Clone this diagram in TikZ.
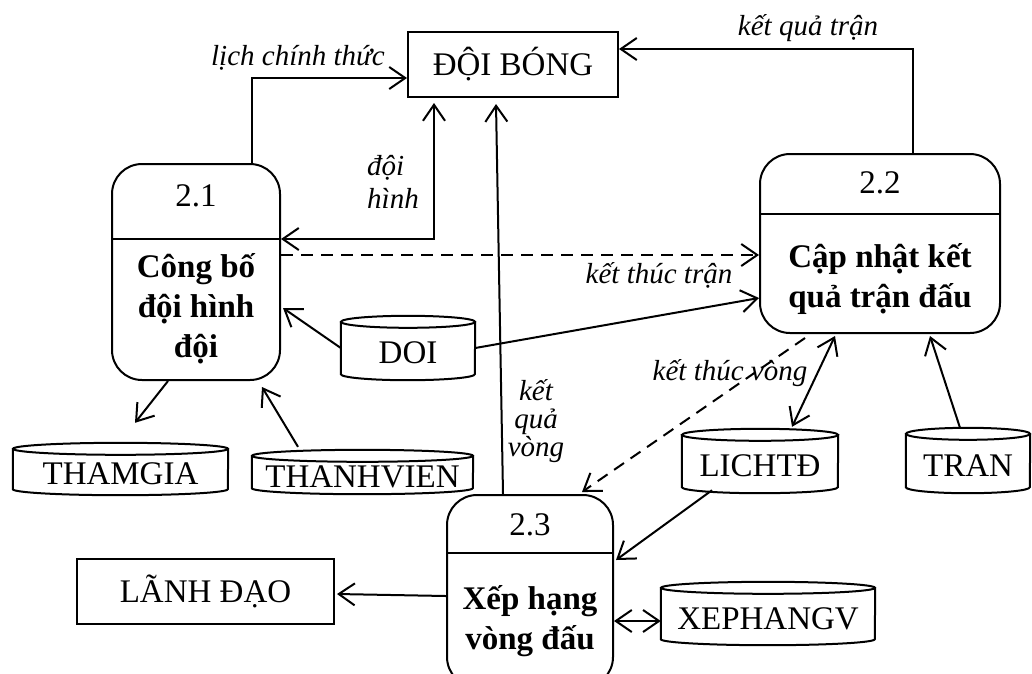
\documentclass[tikz,border=0pt]{standalone}
\usepackage{fontspec}
\setmainfont{Liberation Serif}
\usetikzlibrary{arrows.meta}

\newcommand\dfdtext{\fontsize{33}{40}\selectfont}
\newcommand\dfdlabel{\fontsize{29}{33}\selectfont\itshape}

% outline of a data store: open cylinder drawn around a named node
\newcommand\storeoutline[2]{%
  \draw[outline] ([yshift=-6pt]#1.north west) -- ([yshift=6pt]#1.south west)
    arc[start angle=180,end angle=360,x radius=#2pt,y radius=6pt]
    -- ([yshift=-6pt]#1.north east)
    ([yshift=-6pt]#1.north) ellipse[x radius=#2pt,y radius=6pt];}

\tikzset{
  outline/.style={line width=2pt},
  entity/.style={draw, outline, font=\dfdtext, inner sep=0pt},
  process/.style={draw, outline, rounded corners=30pt, inner sep=0pt},
  store/.style={inner sep=0pt, font=\dfdtext},
  num/.style={font=\dfdtext, anchor=base, inner sep=0pt},
  ptitle/.style={font=\dfdtext\bfseries, align=center, inner sep=0pt},
  lbl/.style={font=\dfdlabel, inner sep=0pt},
  >={Straight Barb[length=16pt,width=22pt]},
  flow/.style={outline, ->},
  both/.style={outline, <->},
  event/.style={flow, dash pattern=on 12pt off 8pt},
}

\begin{document}
\begin{tikzpicture}[x=1pt,y=-1pt]
\useasboundingbox (0,0) rectangle (1032,673);
\fill[white] (0,0) rectangle (1032,673);
\clip (0,0) rectangle (1032,673);

% external entities
\node[entity, minimum width=210pt, minimum height=65pt] (doib) at (513,64.5) {ĐỘI BÓNG};
\node[entity, minimum width=257pt, minimum height=65pt] (lanh) at (205.5,591.5) {LÃNH ĐẠO};

% processes
\node[process, minimum width=168pt, minimum height=216pt] (p21) at (196,272) {};
\node[process, minimum width=240pt, minimum height=179pt] (p22) at (880,243.5) {};
\node[process, minimum width=166pt, minimum height=192pt] (p23) at (530,591) {};
\draw[outline] ([yshift=-76pt]p21.north west) -- ([yshift=-76pt]p21.north east);
\draw[outline] ([yshift=-61pt]p22.north west) -- ([yshift=-61pt]p22.north east);
\draw[outline] ([yshift=-59pt]p23.north west) -- ([yshift=-59pt]p23.north east);
\node[num] (n21) at (196,206) {2.1};
\node[num] (n22) at (880,193) {2.2};
\node[num] (n23) at (530,535) {2.3};
\node[ptitle] (t21) at (196,309) {Công bố\\đội hình\\đội};
\node[ptitle] (t22) at (880,279) {Cập nhật kết\\quả trận đấu};
\node[ptitle] (t23) at (530,621) {Xếp hạng\\vòng đấu};

% data stores
\node[store, minimum width=215pt, minimum height=52pt] (thamgia) at (120.5,469) {\raisebox{-5pt}[\height][\depth]{THAMGIA}};
\node[store, minimum width=221pt, minimum height=44pt] (thanhvien) at (362.5,472) {\raisebox{-5pt}[\height][\depth]{THANHVIEN}};
\node[store, minimum width=134pt, minimum height=64pt] (doi) at (408,348) {\raisebox{-5pt}[\height][\depth]{DOI}};
\node[store, minimum width=156pt, minimum height=64pt] (lichtd) at (760,461) {\raisebox{-5pt}[\height][\depth]{LICHTĐ}};
\node[store, minimum width=124pt, minimum height=65pt] (tran) at (968,460.5) {\raisebox{-5pt}[\height][\depth]{TRAN}};
\node[store, minimum width=214pt, minimum height=63pt] (xephang) at (768,613.5) {\raisebox{-5pt}[\height][\depth]{XEPHANGV}};
\storeoutline{thamgia}{107.5}
\storeoutline{thanhvien}{110.5}
\storeoutline{doi}{67}
\storeoutline{lichtd}{78}
\storeoutline{tran}{62}
\storeoutline{xephang}{107}

% flows
\draw[flow] ([xshift=56pt]p21.north) |- ([yshift=-13.5pt]doib.west);
\draw[both] ([yshift=33pt]p21.east) -| ([xshift=-79pt,yshift=-5pt]doib.south);
\draw[flow] ([xshift=-27pt]p23.north) -- ([xshift=-17pt,yshift=-6pt]doib.south);
\draw[flow] ([xshift=33pt]p22.north) |- ([yshift=15.5pt]doib.east);
\draw[event] ([yshift=17pt]p21.east) -- ([yshift=-11.5pt]p22.west);
\draw[flow] (doi.west) -- ([xshift=2pt,yshift=-36pt]p21.east);
\draw[flow] (doi.east) -- ([yshift=-54.5pt]p22.west);
\draw[flow] ([xshift=-28pt]p21.south) -- ([xshift=14.5pt,yshift=20pt]thamgia.north);
\draw[flow] ([xshift=-64.5pt,yshift=3pt]thanhvien.north) -- ([xshift=66pt,yshift=-6pt]p21.south);
\draw[both] ([xshift=-45pt,yshift=-2pt]p22.south) -- ([xshift=32pt,yshift=2pt]lichtd.north);
\draw[flow] ([xshift=-8pt]tran.north) -- ([xshift=50pt,yshift=-2pt]p22.south);
\draw[event] ([xshift=-75pt,yshift=-4pt]p22.south) -- ([xshift=52pt,yshift=2pt]p23.north);
\draw[flow] ([xshift=-48pt,yshift=3pt]lichtd.south) -- ([xshift=2pt,yshift=31pt]p23.east);
\draw[flow] ([yshift=-5pt]p23.west) -- ([xshift=2pt,yshift=-2.5pt]lanh.east);
\draw[both] ([yshift=-30pt]p23.east) -- ([yshift=-7.5pt]xephang.west);

% flow labels
\node[lbl, anchor=base] (l1) at (298,65) {lịch chính thức};
\node[lbl, align=left] (l3) at (393,182) {đội\\hình};
\node[lbl, anchor=base] (l2) at (808,35) {kết quả trận};
\node[lbl, anchor=base] (l4) at (659,283) {kết thúc trận};
\node[lbl, align=center, font=\fontsize{29}{28}\selectfont\itshape] (l5) at (536,421) {kết\\quả\\vòng};
\node[lbl, anchor=base] (l6) at (730,380) {kết thúc vòng};
\end{tikzpicture}
\end{document}
